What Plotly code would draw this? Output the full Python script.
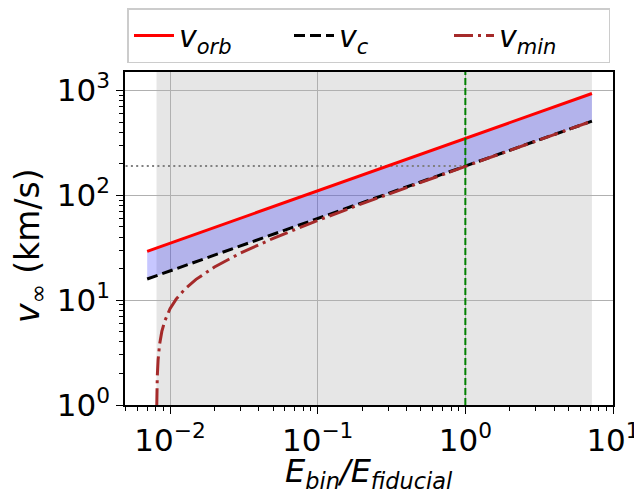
import plotly.graph_objects as go

# ---------------- data ----------------
e_line = [0.007, 7.2]                 # E_bin/E_fiducial end points of the straight lines
v_orb = [29.2, 936.0]                 # km/s
v_c = [15.9, 509.8]                   # km/s

e_min = [0.008125, 0.00815, 0.0082, 0.0083, 0.0085, 0.0088, 0.0092, 0.01, 0.011,
         0.0125, 0.015, 0.02, 0.03, 0.05, 0.1, 0.2, 0.5, 1.0, 2.0, 4.0, 7.2]
v_min = [0.95, 1.34, 1.9, 2.69, 3.8, 5.03, 6.30, 8.28, 10.23, 12.60, 15.78, 20.73,
         28.12, 38.89, 57.60, 83.23, 133.3, 189.2, 268.2, 379.6, 509.5]

gray_span = [0.0081, 7.2]             # shaded allowed range
e_fid = 1.0                           # vertical marker
e_hline = [0.005, 1.0]                # dotted horizontal line extent
v_hline = [190.0, 190.0]

x_tickvals = [0.01, 0.1, 1, 10]
x_ticktext = ["10<sup>−2</sup>", "10<sup>−1</sup>", "10<sup>0</sup>", "10<sup>1</sup>"]
y_tickvals = [1, 10, 100, 1000]
y_ticktext = ["10<sup>0</sup>", "10<sup>1</sup>", "10<sup>2</sup>", "10<sup>3</sup>"]

x_minor = [m * 10 ** k for k in (-3, -2, -1, 0) for m in range(2, 10)]
y_minor = [m * 10 ** k for k in (0, 1, 2, 3) for m in range(2, 10)]

FONT = "DejaVu Sans"

fig = go.Figure()

# blue band between v_c and v_orb
fig.add_trace(go.Scatter(x=e_line, y=v_c, mode="lines", line=dict(width=0),
                         showlegend=False, hoverinfo="skip"))
fig.add_trace(go.Scatter(x=e_line, y=v_orb, mode="lines", line=dict(width=0),
                         fill="tonexty", fillcolor="rgba(0,0,255,0.22)",
                         showlegend=False, hoverinfo="skip"))

# dotted horizontal line
fig.add_trace(go.Scatter(x=e_hline, y=v_hline, mode="lines",
                         line=dict(color="gray", width=2, dash="2px,3.3px"),
                         showlegend=False, hoverinfo="skip"))

fig.add_trace(go.Scatter(x=e_line, y=v_orb, mode="lines", name="<i>v<sub>orb</sub></i>",
                         line=dict(color="red", width=3)))
fig.add_trace(go.Scatter(x=e_line, y=v_c, mode="lines", name="<i>v<sub>c</sub></i>",
                         line=dict(color="black", width=3, dash="11px,5px")))
fig.add_trace(go.Scatter(x=e_min, y=v_min, mode="lines", name="<i>v<sub>min</sub></i>",
                         line=dict(color="brown", width=3, dash="19px,5px,3px,5px")))

# gray shaded region
fig.add_vrect(x0=gray_span[0], x1=gray_span[1], fillcolor="rgba(128,128,128,0.2)",
              line_width=0, layer="below")
# vertical green dashed line
fig.add_vline(x=e_fid, line=dict(color="green", width=2, dash="7px,3px"))

axis_common = dict(
    type="log", showline=True, linecolor="black", linewidth=1.5, mirror=True,
    ticks="outside", ticklen=7, tickwidth=1.2, tickcolor="black",
    showgrid=True, gridcolor="#b0b0b0", gridwidth=1, zeroline=False,
    tickfont=dict(family=FONT, size=31, color="black"), automargin=False,
)

fig.update_xaxes(**axis_common, range=[-2.305, 1.0], tickvals=x_tickvals, ticktext=x_ticktext,
                 minor=dict(tickvals=x_minor, ticks="outside", ticklen=4, tickcolor="black",
                            showgrid=False))
fig.update_yaxes(**axis_common, range=[0, 3.176], tickvals=y_tickvals, ticktext=y_ticktext,
                 minor=dict(tickvals=y_minor, ticks="outside", ticklen=4, tickcolor="black",
                            showgrid=False))

fig.add_annotation(text="<i>E<sub>bin</sub>/E<sub>fiducial</sub></i>", xref="paper", yref="paper",
                   x=0.5, y=-0.205, xanchor="center", yanchor="middle", showarrow=False,
                   font=dict(family=FONT, size=32, color="black"))
fig.add_annotation(text="<i>v</i><sub>∞</sub> (km/s)", xref="paper", yref="paper",
                   x=-0.197, y=0.48, xanchor="center", yanchor="middle", textangle=-90,
                   showarrow=False, font=dict(family=FONT, size=33, color="black"))

# the page body adds an 8px offset, so the figure is 8px smaller and margins shifted
fig.update_layout(
    width=634, height=481,
    margin=dict(l=117, r=29, t=64, b=84, autoexpand=False),
    plot_bgcolor="white", paper_bgcolor="white",
    font=dict(family=FONT, color="black"),
    legend=dict(orientation="h", xref="container", yref="container",
                x=0.5694, xanchor="center", y=1.0, yanchor="top",
                traceorder="normal",
                bordercolor="#cccccc", borderwidth=1.5, bgcolor="white",
                font=dict(family=FONT, size=30), entrywidth=105, itemwidth=40),
)

fig.write_html("out.html")
